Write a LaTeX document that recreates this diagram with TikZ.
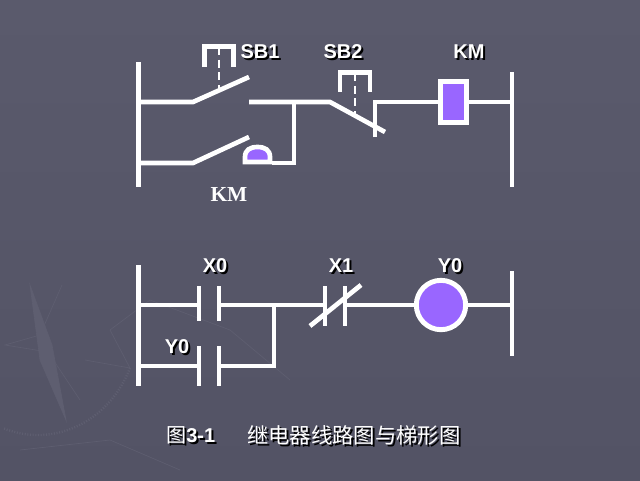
\documentclass[tikz,border=0pt]{standalone}
\usepackage{fontspec}
\setmainfont{Liberation Sans}
\newfontfamily\cjkfont{Noto Sans CJK SC}
\newfontfamily\kmfont{Liberation Serif}
\definecolor{slide}{HTML}{5A5A6C}
\definecolor{slidedark}{HTML}{535365}
\definecolor{markfaint}{HTML}{5E5E70}
\definecolor{coilfill}{HTML}{9966FF}
\newcommand{\shtext}[1]{\makebox[0pt][l]{\smash{\raisebox{-1.5pt}{\hspace{1.5pt}\color{black}#1}}}#1}
\tikzset{
	wire/.style={draw=white, line width=3.5pt},
	brk/.style={draw=white, line width=3.5pt, line join=miter},
	pushrod/.style={draw=white, line width=2pt, dash pattern=on 6pt off 3.5pt},
	lbl/.style={text=white, font=\fontsize{15}{18}\selectfont\bfseries, inner sep=0pt},
	wmark/.style={draw=markfaint, line width=.5pt},
}
\begin{document}
\begin{tikzpicture}[x=0.75pt, y=-0.75pt]
		\useasboundingbox (0,0) rectangle (640,480);
		\shade[top color=slide, bottom color=slidedark] (0,0) rectangle (640,480);
		
		% compass in the background
		\draw[wmark, fill=markfaint] (30,285) -- (52,345) -- (66,420) -- (40,360) -- cycle;
		\draw[wmark] (62,285) -- (40,335) -- (5,345) -- (48,352) -- (80,400);
		\draw[wmark, line width=1.8pt, dash pattern=on .8pt off 1.2pt] (130,368) arc (23:110:100 and 110);
		\draw[wmark] (85,360) -- (130,368) -- (110,330) -- (150,300) -- (230,330) -- (290,380);
		\draw[wmark] (20,450) -- (110,440) -- (180,470);
		
		% relay circuit
		\coordinate (lr1top) at (138.5,62);
		\coordinate (lr1bot) at (138.5,187);
		\coordinate (rr1top) at (512,72);
		\coordinate (rr1bot) at (512,187);
		\draw[wire] (lr1top) -- (lr1bot);
		\draw[wire] (rr1top) -- (rr1bot);
		
		\coordinate (l1) at (138.5,102);
		\coordinate (sb1a) at (193,102);
		\coordinate (sb1b) at (249,77);
		\coordinate (sb1c) at (249,102);
		\coordinate (junc1) at (294,102);
		\coordinate (sb2a) at (330,102);
		\coordinate (sb2b) at (385,132);
		\coordinate (sb2c) at (375,102);
		\coordinate (sb2d) at (375,137);
		\coordinate (r1) at (512,102);
		\node[draw=white, line width=3.7pt, fill=coilfill, inner sep=0pt, outer sep=0pt, minimum width=20pt, minimum height=30.5pt] (kmcoil) at (453.5,102) {};
		\draw[wire] (l1) -- (sb1a) -- (sb1b);
		\draw[wire] (sb1c) -- (sb2a) -- (sb2b);
		\draw[wire] (sb2d) -- (sb2c) -- (kmcoil.west);
		\draw[wire] (kmcoil.east) -- (r1);
		
		\coordinate (l2) at (138.5,163);
		\coordinate (kma) at (193,163);
		\coordinate (kmb) at (249,137);
		\coordinate (kmc) at (272,163);
		\coordinate (junc2) at (294,163);
		\draw[wire] (l2) -- (kma) -- (kmb);
		\draw[wire, line join=miter] (kmc) -- (junc2) -- (junc1);
		\draw[wire, fill=coilfill] (245,162) -- (245,157) .. controls (245,150) and (250,147) .. (257.5,147) .. controls (265,147) and (270,150) .. (270,157) -- (270,162) -- cycle;
		
		\draw[brk] (204.5,67) -- (204.5,46.5) -- (233.5,46.5) -- (233.5,67);
		\draw[pushrod] (219,47) -- (219,90);
		\draw[brk] (340,92) -- (340,72.5) -- (370,72.5) -- (370,92);
		\draw[pushrod] (355,73) -- (355,114);
		
		\node[lbl] (sb1lbl) at (260,52) {\shtext{SB1}};
		\node[lbl] (sb2lbl) at (343,52) {\shtext{SB2}};
		\node[lbl] (kmlbl) at (469,52) {\shtext{KM}};
		\node[text=white, inner sep=0pt, font=\kmfont\fontsize{16}{18}\selectfont\bfseries] (kmlow) at (229,195) {KM};
		
		% ladder diagram
		\coordinate (lr2top) at (138.5,265);
		\coordinate (lr2bot) at (138.5,386);
		\coordinate (rr2top) at (512,271);
		\coordinate (rr2bot) at (512,356);
		\draw[wire] (lr2top) -- (lr2bot);
		\draw[wire] (rr2top) -- (rr2bot);
		
		\coordinate (l3) at (138.5,305);
		\coordinate (x0a) at (199,305);
		\coordinate (x0b) at (219,305);
		\coordinate (x1a) at (325,305);
		\coordinate (x1b) at (345,305);
		\coordinate (r3) at (512,305);
		\node[circle, draw=white, line width=3.7pt, fill=coilfill, minimum size=37pt, inner sep=0pt, outer sep=0pt] (y0coil) at (441,305) {};
		\draw[wire] (l3) -- (x0a);
		\draw[wire] (x0b) -- (x1a);
		\draw[wire] (x1b) -- (y0coil.west);
		\draw[wire] (y0coil.east) -- (r3);
		\draw[wire] (x0a |- 0,286) -- (x0a |- 0,321);
		\draw[wire] (x0b |- 0,286) -- (x0b |- 0,321);
		\draw[wire] (x1a |- 0,286) -- (x1a |- 0,326);
		\draw[wire] (x1b |- 0,286) -- (x1b |- 0,326);
		\draw[wire] (310,326) -- (361,285);
		
		\coordinate (l4) at (138.5,366);
		\coordinate (y0a) at (199,366);
		\coordinate (y0b) at (219,366);
		\coordinate (junc3) at (274,366);
		\coordinate (junc4) at (274,305);
		\draw[wire] (l4) -- (y0a);
		\draw[wire, line join=miter] (y0b) -- (junc3) -- (junc4);
		\draw[wire] (y0a |- 0,346) -- (y0a |- 0,386);
		\draw[wire] (y0b |- 0,346) -- (y0b |- 0,386);
		
		\node[lbl] (x0lbl) at (215,266) {\shtext{X0}};
		\node[lbl] (x1lbl) at (341,266) {\shtext{X1}};
		\node[lbl] (y0lbl) at (450,266) {\shtext{Y0}};
		\node[lbl] (y0low) at (177,347) {\shtext{Y0}};
		
		\node[lbl, anchor=west] (fignum) at (166,435) {\shtext{{\cjkfont\mdseries 图}3-1}};
		\node[lbl, anchor=west, font=\fontsize{16}{18}\selectfont] (figcap) at (247,435) {\shtext{\cjkfont 继电器线路图与梯形图}};
	\end{tikzpicture}
\end{document}
